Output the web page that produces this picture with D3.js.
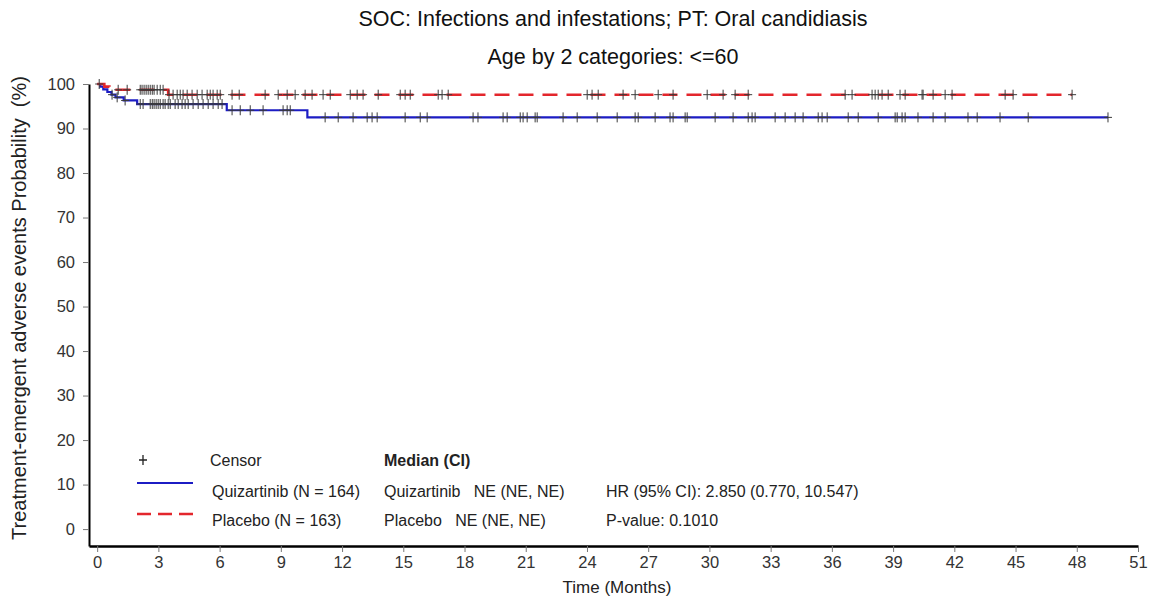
<!DOCTYPE html>
<html><head><meta charset="utf-8">
<script src="https://cdn.jsdelivr.net/npm/d3@7"></script>
<style>
body{margin:0;background:#fff;}
text{font-family:"Liberation Sans",Arial,sans-serif;}
</style></head>
<body><svg id="c" width="1156" height="600"></svg>
<script>
const titleText = "SOC: Infections and infestations; PT: Oral candidiasis";
const subtitleText = "Age by 2 categories: <=60";
const xLabel = "Time (Months)";
const yLabel = "Treatment-emergent adverse events Probability  (%)";
const xTicks = d3.range(0, 52, 3);
const yTicks = d3.range(0, 101, 10);

const seriesNames = ["Quizartinib (N = 164)", "Placebo (N = 163)"];
const medianLines = ["Quizartinib   NE (NE, NE)", "Placebo   NE (NE, NE)"];
const statLines = ["HR (95% CI): 2.850 (0.770, 10.547)", "P-value: 0.1010"];

const quizTimes = [0, 0.15, 0.3, 0.5, 0.7, 0.9, 1.3, 1.96, 6.35, 10.3, 49.53];
const quizSurv  = [100, 99.4, 98.8, 98.2, 97.6, 97.0, 96.3, 95.5, 94.1, 92.5, 92.5];
const placTimes = [0, 0.35, 0.6, 3.48, 47.77];
const placSurv  = [100, 99.4, 98.7, 97.6, 97.6];

const quizCensor = [0.73, 0.98, 1.37,
  2.11, 2.25, 2.60, 2.70, 2.79, 2.89, 2.99, 3.09, 3.23, 3.33, 3.48, 3.58, 3.82, 3.97, 4.16, 4.31, 4.46, 4.70, 4.95, 5.19, 5.44, 5.68, 5.93, 6.12,
  6.61, 7.01, 7.50, 8.13, 9.11, 9.31, 9.46,
  11.17, 11.81, 12.54, 13.23, 13.47, 13.72, 15.09, 15.83, 16.17, 18.42, 18.66, 19.89, 20.09, 20.73, 20.87, 21.07, 21.46, 21.56, 22.83, 23.52,
  24.50, 25.48, 26.36, 26.51, 27.34, 28.07, 28.22, 28.81, 28.91, 30.28, 31.16, 31.90, 32.09, 32.24, 33.22, 33.71, 34.20, 34.59, 35.33, 35.52,
  35.77, 36.80, 37.29, 38.27, 39.10, 39.20, 39.44, 39.59, 40.22, 40.96, 41.55, 42.67, 43.12, 44.24, 45.62, 49.53];
const placCensor = [0.1, 1.03, 1.47, 2.11, 2.20, 2.30, 2.40, 2.50, 2.60, 2.70, 2.79, 2.94, 3.09, 3.23,
  3.52, 3.72, 3.92, 4.07, 4.21, 4.41, 4.65, 4.90, 5.14, 5.39, 5.54, 5.68, 5.88, 6.03, 6.61, 6.96, 8.23, 8.87, 9.31, 9.70,
  10.19, 10.53, 11.07, 11.42, 12.40, 12.74, 13.03, 13.77, 14.85, 15.09, 15.34, 16.71, 16.90, 17.20, 24.01, 24.25, 24.55,
  25.77, 26.36, 27.49, 28.22, 29.89, 30.67, 31.26, 31.90, 36.65, 36.99, 37.97, 38.12, 38.27, 38.46, 38.76, 39.34, 39.59,
  40.42, 40.47, 40.96, 41.55, 41.89, 44.49, 44.88, 47.77];

const svg = d3.select("#c");
const x = d3.scaleLinear().domain([-0.4, 51]).range([89, 1138]);
const y = d3.scaleLinear().domain([-3.8, 100]).range([546, 84]);

// titles
svg.append("text").attr("x", 613).attr("y", 26).attr("text-anchor", "middle")
  .attr("font-size", 21.5).attr("fill", "#111").text(titleText);
svg.append("text").attr("x", 613).attr("y", 64).attr("text-anchor", "middle")
  .attr("font-size", 21.5).attr("fill", "#111").text(subtitleText);

// axes
const xAxis = svg.append("g").attr("transform", "translate(0,546)")
  .call(d3.axisBottom(x).tickValues(xTicks).tickSize(6).tickSizeOuter(0));
xAxis.select(".domain").attr("stroke", "#000").attr("stroke-width", 2.5);
xAxis.selectAll(".tick line").attr("stroke", "#777");
xAxis.selectAll(".tick text").attr("font-size", 16.5).attr("fill", "#333")
  .attr("font-family", "Liberation Sans, Arial, sans-serif").attr("y", 10).attr("dy", "0.72em");

const yAxis = svg.append("g").attr("transform", "translate(89,0)")
  .call(d3.axisLeft(y).tickValues(yTicks).tickSize(6).tickSizeOuter(0));
yAxis.select(".domain").attr("stroke", "#000").attr("stroke-width", 2);
yAxis.selectAll(".tick line").attr("stroke", "#777");
yAxis.selectAll(".tick text").attr("font-size", 16.5).attr("fill", "#333")
  .attr("font-family", "Liberation Sans, Arial, sans-serif").attr("x", -14);

svg.append("text").attr("x", 617).attr("y", 593).attr("text-anchor", "middle")
  .attr("font-size", 17).attr("fill", "#222").text(xLabel);
svg.append("text").attr("transform", "translate(26,308) rotate(-90)").attr("text-anchor", "middle")
  .attr("font-size", 20).attr("fill", "#222").attr("xml:space", "preserve").style("white-space", "pre").text(yLabel);

// curves
const line = d3.line().x(d => x(d[0])).y(d => y(d[1])).curve(d3.curveStepAfter);
const quizPts = quizTimes.map((t, i) => [t, quizSurv[i]]);
const placPts = placTimes.map((t, i) => [t, placSurv[i]]);
const blue = "#1c1cc4", red = "#e3262c";
svg.append("path").attr("d", line(quizPts)).attr("fill", "none").attr("stroke", blue).attr("stroke-width", 2.2);
svg.append("path").attr("d", line(placPts)).attr("fill", "none").attr("stroke", red).attr("stroke-width", 2.6)
  .attr("stroke-dasharray", "15,9");

function survAt(times, surv, t) {
  let v = surv[0];
  for (let i = 0; i < times.length; i++) if (times[i] <= t) v = surv[i];
  return v;
}
const plus = "M-4,0H4M0,-5V5";
function drawCensor(arr, times, surv) {
  svg.append("g").selectAll("path").data(arr).join("path")
    .attr("transform", t => `translate(${x(t)},${y(survAt(times, surv, t))})`)
    .attr("d", plus).attr("stroke", "#3a3a3a").attr("stroke-width", 1).attr("fill", "none");
}
drawCensor(quizCensor, quizTimes, quizSurv);
drawCensor(placCensor, placTimes, placSurv);

// legend
const lg = svg.append("g").attr("font-size", 16).attr("fill", "#222");
lg.append("path").attr("d", "M-4,0H4M0,-5V5").attr("transform", "translate(143,460)")
  .attr("stroke", "#222").attr("stroke-width", 1.3);
lg.append("text").attr("x", 210).attr("y", 466).text("Censor");
lg.append("text").attr("x", 384).attr("y", 466).attr("font-weight", "bold").text("Median (CI)");
lg.append("line").attr("x1", 137).attr("x2", 193).attr("y1", 483).attr("y2", 483)
  .attr("stroke", blue).attr("stroke-width", 2);
lg.append("line").attr("x1", 137).attr("x2", 193).attr("y1", 514).attr("y2", 514)
  .attr("stroke", red).attr("stroke-width", 2.4).attr("stroke-dasharray", "14,7");
[497, 526].forEach((yy, i) => {
  lg.append("text").attr("x", 212).attr("y", yy).text(seriesNames[i]);
  lg.append("text").attr("x", 384).attr("y", yy).attr("xml:space", "preserve").style("white-space", "pre").text(medianLines[i]);
  lg.append("text").attr("x", 606).attr("y", yy).text(statLines[i]);
});
</script></body></html>
